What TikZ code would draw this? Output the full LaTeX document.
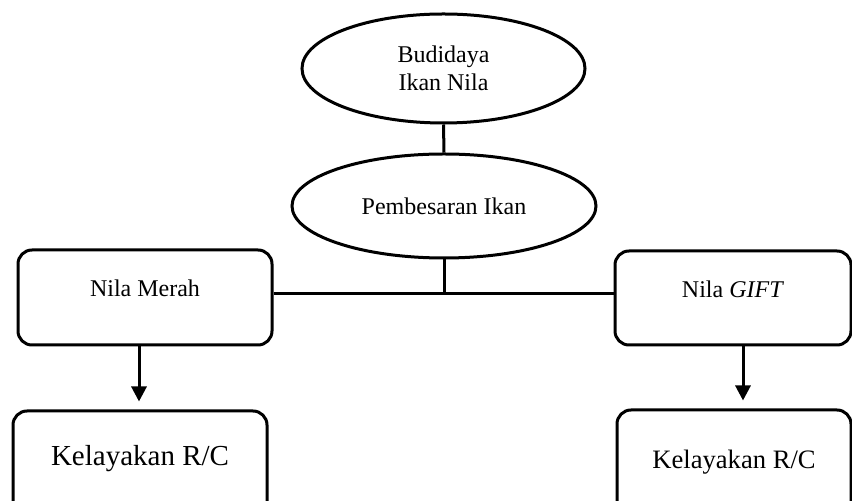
\documentclass[tikz,border=0pt]{standalone}
\usepackage{fontspec}
\setmainfont{Liberation Serif}
\usetikzlibrary{arrows.meta,shapes.geometric}

\begin{document}
\begin{tikzpicture}[x=0.5pt,y=-0.5pt,line width=1.5pt]
\tikzstyle{oval}=[draw,ellipse,inner sep=0pt,align=center,font=\fontsize{12}{14}\selectfont]
\tikzstyle{kotak}=[draw,rectangle,rounded corners=7pt,inner sep=0pt,font=\fontsize{12}{14}\selectfont]
\tikzstyle{panah}=[-{Triangle[width=7.5pt,length=7.5pt]},shorten >=4pt]
\useasboundingbox (0,0) rectangle (852,501);
\clip (0,0) rectangle (852,501);
% ellipses
\node [oval,minimum width=141.5pt,minimum height=54.5pt] (bd) at (443.5,68.5) {Budidaya\\Ikan Nila};
\node [oval,minimum width=152pt,minimum height=52pt] (pb) at (444,206) {\raisebox{-3pt}{Pembesaran Ikan}};
% boxes
\node [kotak,minimum width=127pt,minimum height=47.5pt,text depth=9pt] (nm) at (145,297.5) {Nila Merah};
\node [kotak,minimum width=118pt,minimum height=47pt,text depth=9pt] (ng) at (733,298) {Nila \textit{GIFT}};
\node [kotak,minimum width=127pt,minimum height=55pt,text depth=11pt,font=\fontsize{14.5}{17}\selectfont] (kl) at (140,466) {Kelayakan R/C};
\node [kotak,minimum width=117pt,minimum height=55pt,text depth=6pt,font=\fontsize{13.3}{16}\selectfont] (kr) at (734,465) {Kelayakan R/C};
\coordinate (hub) at (444,294);
% connectors
\draw (bd.south) -- (pb.north);
\draw (pb.south) -- (hub);
\draw (nm.east |- hub) -- (ng.west |- hub);
\draw [panah] ([xshift=-3pt]nm.south) -- ([xshift=-3pt]nm.south |- kl.north);
\draw [panah] ([xshift=5pt]ng.south) -- ([xshift=5pt]ng.south |- kr.north);
\end{tikzpicture}
\end{document}
